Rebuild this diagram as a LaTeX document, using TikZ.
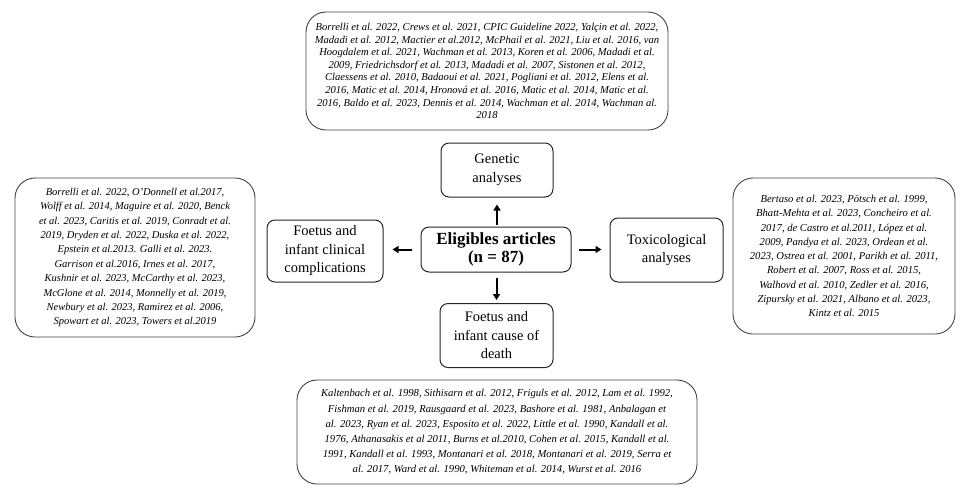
\documentclass[tikz,border=0pt]{standalone}
\usepackage{fontspec}
\setmainfont{Liberation Serif}
\usetikzlibrary{arrows.meta}
\tikzset{
  refbox/.style={draw=black!75, line width=0.9pt, rounded corners=20pt, align=center, inner sep=0pt, font=\itshape},
  catbox/.style={draw=black!85, line width=1pt, rounded corners=8pt, align=center, inner sep=0pt, font=\fontsize{14.5}{18.5}\selectfont},
  arr/.style={line width=2pt, -{Triangle[length=6pt,width=7pt]}}
}
\begin{document}
\begin{tikzpicture}[x=1pt,y=-1pt]
\useasboundingbox (0,0) rectangle (960,488);
% central and category nodes
\node[catbox, minimum width=150pt, minimum height=45pt, font=\bfseries\fontsize{17}{17.5}\selectfont] (c) at (496,249.5) {Eligibles articles\\(n = 87)};
\node[catbox, minimum width=112pt, minimum height=54pt] (gen) at (497,170) {Genetic\\analyses};
\node[catbox, minimum width=116pt, minimum height=62pt] (clin) at (325,251) {Foetus and\\infant clinical\\complications};
\node[catbox, minimum width=113pt, minimum height=64pt] (tox) at (666.5,250) {Toxicological\\analyses};
\node[catbox, minimum width=113pt, minimum height=64pt, anchor=north] (death) at (496.5,303) {Foetus and\\infant cause of\\death};
% arrows
\draw[arr, shorten <=2pt, shorten >=7pt] (c.north -| gen.south) -- (gen.south);
\draw[arr, shorten <=9pt, shorten >=9pt] (c.west) -- (c.west -| clin.east);
\draw[arr, shorten <=7pt, shorten >=8pt] (c.east) -- (c.east -| tox.west);
\draw[arr, shorten <=5pt, shorten >=3pt] (c.south -| death.north) -- (death.north);
% reference boxes
\node[refbox, minimum width=362pt, minimum height=118pt, font=\itshape\fontsize{10.6}{12.6}\selectfont] (refgen) at (487,71) {%
Borrelli et al. 2022, Crews et al. 2021, CPIC Guideline 2022, Yalçin et al. 2022,\\
Madadi et al. 2012, Mactier et al.2012, McPhail et al. 2021, Liu et al. 2016, van\\
Hoogdalem et al. 2021, Wachman et al. 2013, Koren et al. 2006, Madadi et al.\\
2009, Friedrichsdorf et al. 2013, Madadi et al. 2007, Sistonen et al. 2012,\\
Claessens et al. 2010, Badaoui et al. 2021, Pogliani et al. 2012, Elens et al.\\
2016, Matic et al. 2014, Hronová et al. 2016, Matic et al. 2014, Matic et al.\\
2016, Baldo et al. 2023, Dennis et al. 2014, Wachman et al. 2014, Wachman al.\\
2018};
\node[refbox, minimum width=240pt, minimum height=159pt, font=\itshape\fontsize{10.5}{14.4}\selectfont] (refclin) at (135,257.5) {%
Borrelli et al. 2022, O'Donnell et al.2017,\\
Wolff et al. 2014, Maguire et al. 2020, Benck\\
et al. 2023, Caritis et al. 2019, Conradt et al.\\
2019, Dryden et al. 2022, Duska et al. 2022,\\
Epstein et al.2013. Galli et al. 2023.\\
Garrison et al.2016, Irnes et al. 2017,\\
Kushnir et al. 2023, McCarthy et al. 2023,\\
McGlone et al. 2014, Monnelly et al. 2019,\\
Newbury et al. 2023, Ramirez et al. 2006,\\
Spowart et al. 2023, Towers et al.2019};
\node[refbox, minimum width=222pt, minimum height=156pt, font=\itshape\fontsize{10.6}{14.3}\selectfont] (reftox) at (844,256) {%
Bertaso et al. 2023, Pötsch et al. 1999,\\
Bhatt-Mehta et al. 2023, Concheiro et al.\\
2017, de Castro et al.2011, López et al.\\
2009, Pandya et al. 2023, Ordean et al.\\
2023, Ostrea et al. 2001, Parikh et al. 2011,\\
Robert et al. 2007, Ross et al. 2015,\\
Walhovd et al. 2010, Zedler et al. 2016,\\
Zipursky et al. 2021, Albano et al. 2023,\\
Kintz et al. 2015};
\node[refbox, minimum width=400pt, minimum height=104pt, font=\itshape\fontsize{10.65}{15.2}\selectfont] (refdeath) at (497,432) {%
Kaltenbach et al. 1998, Sithisarn et al. 2012, Friguls et al. 2012, Lam et al. 1992,\\
Fishman et al. 2019, Rausgaard et al. 2023, Bashore et al. 1981, Anbalagan et\\
al. 2023, Ryan et al. 2023, Esposito et al. 2022, Little et al. 1990, Kandall et al.\\
1976, Athanasakis et al 2011, Burns et al.2010, Cohen et al. 2015, Kandall et al.\\
1991, Kandall et al. 1993, Montanari et al. 2018, Montanari et al. 2019, Serra et\\
al. 2017, Ward et al. 1990, Whiteman et al. 2014, Wurst et al. 2016};
\end{tikzpicture}
\end{document}
